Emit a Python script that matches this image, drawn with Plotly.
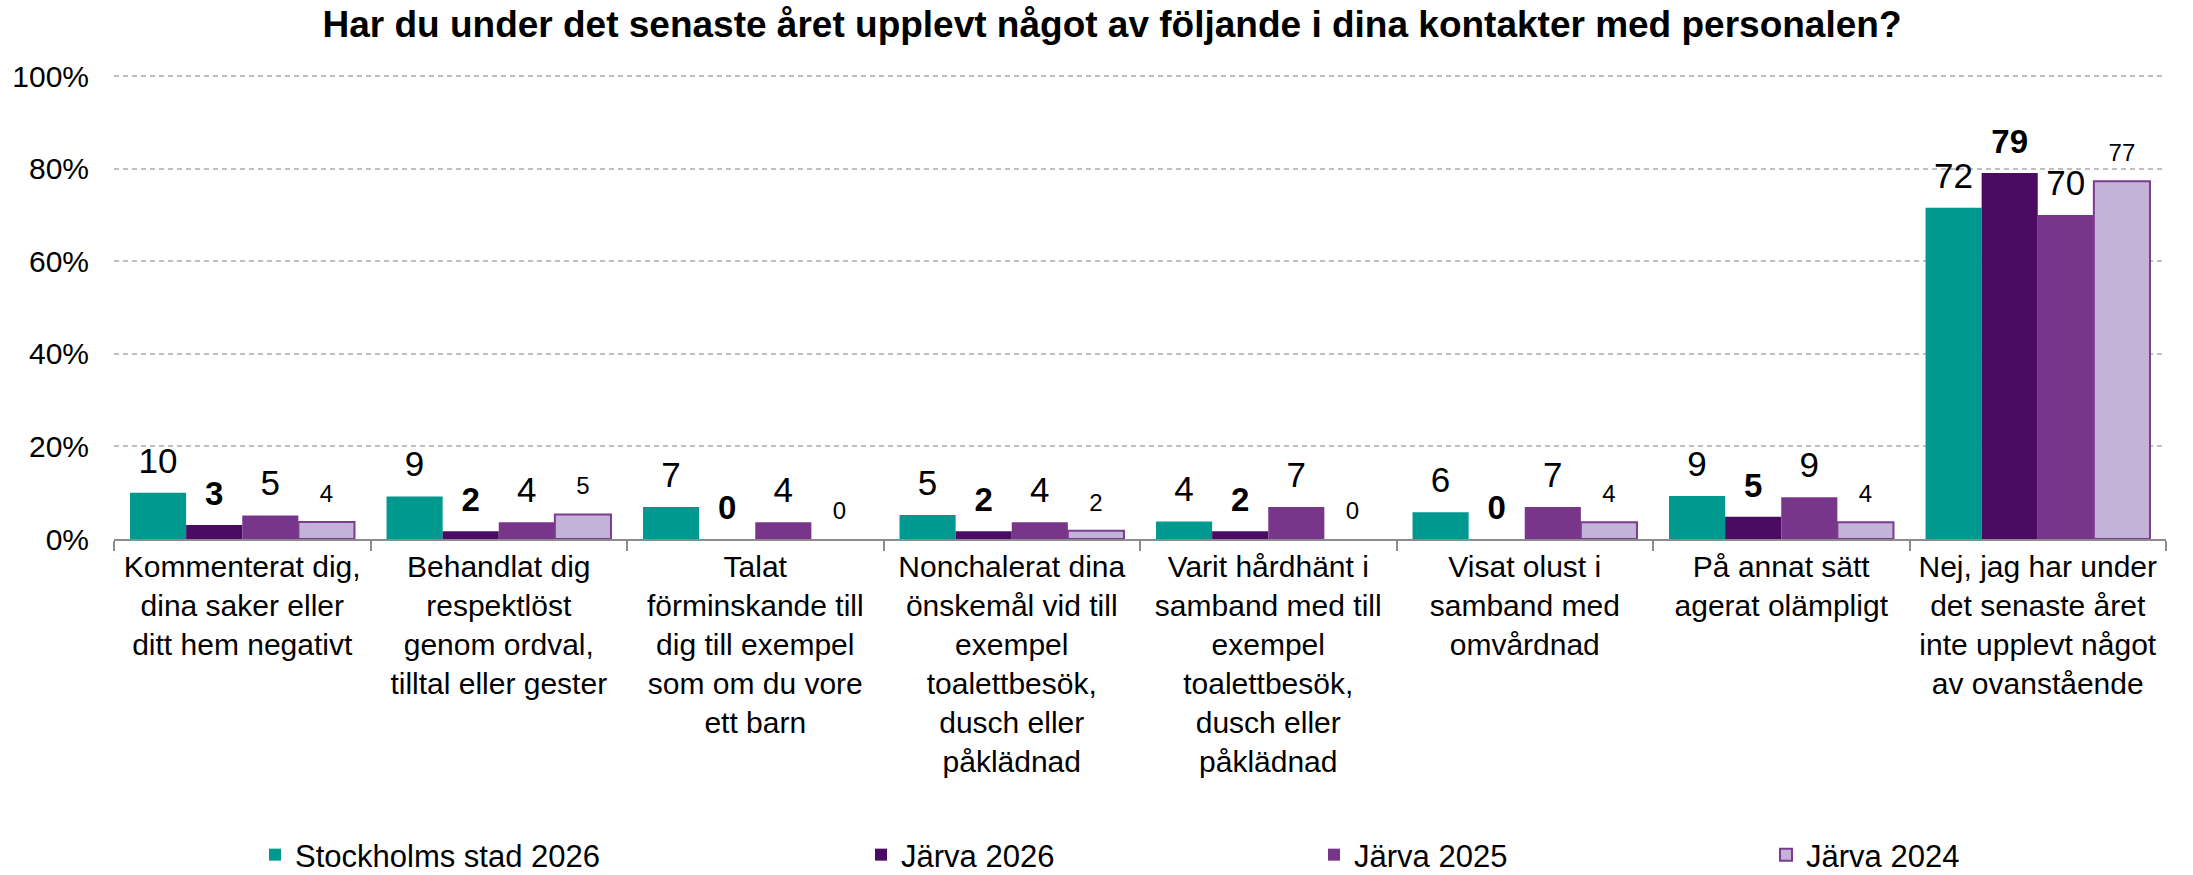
import plotly.graph_objects as go

categories = [
    "Kommenterat dig,<br>dina saker eller<br>ditt hem negativt",
    "Behandlat dig<br>respektlöst<br>genom ordval,<br>tilltal eller gester",
    "Talat<br>förminskande till<br>dig till exempel<br>som om du vore<br>ett barn",
    "Nonchalerat dina<br>önskemål vid till<br>exempel<br>toalettbesök,<br>dusch eller<br>påklädnad",
    "Varit hårdhänt i<br>samband med till<br>exempel<br>toalettbesök,<br>dusch eller<br>påklädnad",
    "Visat olust i<br>samband med<br>omvårdnad",
    "På annat sätt<br>agerat olämpligt",
    "Nej, jag har under<br>det senaste året<br>inte upplevt något<br>av ovanstående",
]

series_names = ["Stockholms stad 2026", "Järva 2026", "Järva 2025", "Järva 2024"]
stockholm_2026 = [10.0, 9.2, 6.9, 5.2, 3.8, 5.8, 9.3, 71.6]
jarva_2026 = [3.0, 1.7, 0.0, 1.7, 1.7, 0.0, 4.8, 79.1]
jarva_2025 = [5.1, 3.6, 3.6, 3.6, 6.9, 6.9, 9.0, 70.0]
jarva_2024 = [3.7, 5.3, 0.0, 1.8, 0.0, 3.6, 3.6, 77.3]

y_tickvals = [0, 20, 40, 60, 80, 100]
y_ticktext = ["0%", "20%", "40%", "60%", "80%", "100%"]

title_text = "Har du under det senaste året upplevt något av följande i dina kontakter med personalen?"

FONT = "Liberation Sans, Arial, sans-serif"
W, H = 2193, 875

colors = ["#00998F", "#4A0C63", "#78368A", "#C4B3D9"]
line_colors = ["#00998F", "#4A0C63", "#78368A", "#7B3C8F"]
line_widths = [0, 0, 0, 2]
label_sizes = [35, 33, 35, 24]
label_weights = ["normal", "bold", "normal", "normal"]
legend_ids = ["legend", "legend2", "legend3", "legend4"]
legend_text_x = [295, 901, 1354, 1806]
label_gap = 20  # px between bar top and label baseline

all_values = [stockholm_2026, jarva_2026, jarva_2025, jarva_2024]

fig = go.Figure()
for i, (name, vals) in enumerate(zip(series_names, all_values)):
    fig.add_trace(go.Bar(
        x=categories, y=vals, name=name,
        marker=dict(color=colors[i],
                    line=dict(color=line_colors[i],
                              width=[line_widths[i] if v > 0 else 0 for v in vals])),
        legend=legend_ids[i],
        hoverinfo="skip",
    ))

for i, (name, vals) in enumerate(zip(series_names, all_values)):
    fs = label_sizes[i]
    r = label_gap - 0.25 * fs
    mrc = (r - 1) * 0.8
    fig.add_trace(go.Scatter(
        x=categories, y=vals, mode="markers+text",
        orientation="v",
        text=[f"{v:.0f}" if v % 1 != 0.5 else str(int(v) + 1) for v in vals],
        textposition="top center",
        textfont=dict(family=FONT, size=fs, color="#000000", weight=label_weights[i]),
        marker=dict(size=2 * mrc, color="rgba(0,0,0,0)"),
        showlegend=False, cliponaxis=False, hoverinfo="skip",
    ))

legend_common = dict(
    orientation="h", xref="container", yref="container",
    yanchor="middle", y=1 - 855 / H,
    font=dict(family=FONT, size=31, color="#000000"),
    bgcolor="rgba(0,0,0,0)", borderwidth=0, itemwidth=30,
)
legends = {}
for i, lid in enumerate(legend_ids):
    legends[lid] = dict(legend_common, x=(legend_text_x[i] - 40) / W, xanchor="left")

fig.update_layout(
    width=W, height=H,
    margin=dict(l=114, r=27, t=74, b=336, autoexpand=False),
    paper_bgcolor="white", plot_bgcolor="white",
    barmode="group", bargap=0.125, bargroupgap=0,
    scattermode="group", scattergap=0.125,
    title=dict(
        text=f"<b>{title_text}</b>",
        font=dict(family=FONT, size=37, color="#000000"),
        x=1112 / W, xanchor="center", xref="container",
        y=1 - 24 / H, yanchor="middle", yref="container",
    ),
    font=dict(family=FONT, size=30, color="#000000"),
    xaxis=dict(
        automargin=False,
        showline=True, linecolor="#8C8C8C", linewidth=2,
        ticks="outside", tickson="boundaries", ticklen=10, tickwidth=1.5, tickcolor="#8C8C8C",
        tickfont=dict(family=FONT, size=30, color="#000000"),
        tickangle=0, showgrid=False,
    ),
    yaxis=dict(
        automargin=False,
        range=[0, 100.5], tickvals=y_tickvals, ticktext=y_ticktext,
        showgrid=True, gridcolor="#BFBFBF", gridwidth=2, griddash="5px,4px",
        zeroline=False, showline=False,
        tickfont=dict(family=FONT, size=30, color="#000000"),
        ticklabelstandoff=24,
    ),
    **legends,
)

fig.write_html("out.html", config={"displayModeBar": False},
               post_script="document.body.style.margin='0';")
